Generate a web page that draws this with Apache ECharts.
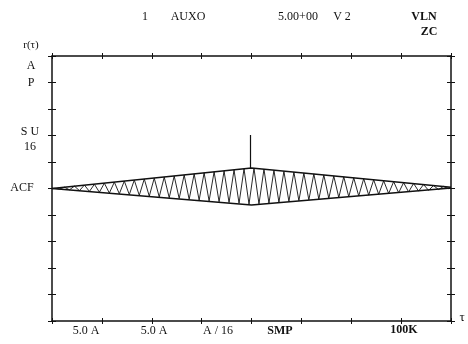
<!DOCTYPE html>
<html>
<head>
<meta charset="utf-8">
<script src="https://cdn.jsdelivr.net/npm/echarts@6/dist/echarts.min.js"></script>
<style>
html,body{margin:0;padding:0;background:#fff;}
#chart{width:468px;height:344px;}
</style>
</head>
<body>
<div id="chart"></div>
<script>
// ---- data ----
const zigzagX = [0.05,0.15,0.25,0.35,0.45,0.55,0.65,0.75,0.85,0.95,1.05,1.15,1.25,1.35,1.45,1.55,1.65,1.75,1.85,1.95,2.05,2.15,2.25,2.35,2.45,2.55,2.65,2.75,2.85,2.95,3.05,3.15,3.25,3.35,3.45,3.55,3.65,3.75,3.85,3.95,4.05,4.15,4.25,4.35,4.45,4.55,4.65,4.75,4.85,4.95,5.05,5.15,5.25,5.35,5.45,5.55,5.65,5.75,5.85,5.95,6.05,6.15,6.25,6.35,6.45,6.55,6.65,6.75,6.85,6.95,7.05,7.15,7.25,7.35,7.45,7.55,7.65,7.75,7.85,7.95];
const zigzagY = [0.01,-0.02,0.05,-0.05,0.09,-0.08,0.13,-0.11,0.16,-0.14,0.20,-0.17,0.24,-0.20,0.28,-0.23,0.32,-0.26,0.36,-0.29,0.39,-0.32,0.43,-0.35,0.47,-0.38,0.51,-0.41,0.55,-0.44,0.59,-0.47,0.63,-0.50,0.66,-0.53,0.70,-0.56,0.74,-0.59,0.76,-0.58,0.73,-0.55,0.69,-0.52,0.65,-0.49,0.62,-0.46,0.58,-0.43,0.55,-0.40,0.51,-0.37,0.47,-0.34,0.44,-0.31,0.40,-0.28,0.37,-0.25,0.33,-0.22,0.29,-0.19,0.26,-0.16,0.22,-0.13,0.19,-0.10,0.15,-0.07,0.11,-0.04,0.08,-0.01];
const envelopeX = [0, 4, 8];
const envelopeTop = [0, 0.77, 0.05];
const envelopeBottom = [0, -0.62, 0.02];
const spikeX = [3.98, 3.98];
const spikeY = [0.77, 2.02];
const topLabels = ['1', 'AUXO', '5.00+00', 'V 2', 'VLN', 'ZC'];
const leftLabels = ['A', 'P', 'S U', '16', 'ACF'];
const bottomLabels = ['5.0 A', '5.0 A', 'A / 16', 'SMP', '100K'];
const yTitle = 'r(τ)';
const xTitle = 'τ';

const pair = (xs, ys) => xs.map((x, i) => [x, ys[i]]);

const FONT = '"Liberation Serif", "DejaVu Serif", serif';

function axisX(pos, inside, showLine) {
  return { type: 'value', min: 0, max: 8, interval: 1, position: pos,
    axisLine: { show: showLine, onZero: false, lineStyle: { color: '#111', width: 1.5 } },
    axisTick: { show: true, inside: inside, length: 3, lineStyle: { color: '#111', width: 1 } },
    axisLabel: { show: false }, splitLine: { show: false } };
}
function axisY(pos, inside, showLine) {
  return { type: 'value', min: -5, max: 5, interval: 1, position: pos,
    axisLine: { show: showLine, onZero: false, lineStyle: { color: '#111', width: 1.5 } },
    axisTick: { show: true, inside: inside, length: 4, lineStyle: { color: '#111', width: 1 } },
    axisLabel: { show: false }, splitLine: { show: false } };
}

function txt(s, x, y, opts) {
  return { type: 'text', x: x, y: y, style: Object.assign({ text: s, fill: '#111',
    font: '12px ' + FONT, align: 'center', verticalAlign: 'middle' }, opts || {}) };
}
const B = { font: 'bold 12px ' + FONT };

const chart = echarts.init(document.getElementById('chart'), null, { renderer: 'canvas' });
chart.setOption({
  animation: false,
  backgroundColor: '#fff',
  grid: { left: 52, right: 17, top: 56, bottom: 23 },
  xAxis: [axisX('bottom', false, true), axisX('bottom', true, false), axisX('top', false, true), axisX('top', true, false)],
  yAxis: [axisY('left', false, true), axisY('left', true, false), axisY('right', false, true), axisY('right', true, false)],
  series: [
    { type: 'line', data: pair(zigzagX, zigzagY), showSymbol: false, lineStyle: { color: '#111', width: 0.9 } },
    { type: 'line', data: pair(envelopeX, envelopeTop), showSymbol: false, lineStyle: { color: '#111', width: 1.5 } },
    { type: 'line', data: pair(envelopeX, envelopeBottom), showSymbol: false, lineStyle: { color: '#111', width: 1.5 } },
    { type: 'line', data: pair(spikeX, spikeY), showSymbol: false, lineStyle: { color: '#111', width: 1.2 } }
  ],
  graphic: [
    txt(yTitle, 31, 45, { font: '11px ' + FONT }),
    txt(topLabels[0], 145, 17),
    txt(topLabels[1], 188, 17),
    txt(topLabels[2], 298, 17, { font: '12px ' + FONT }),
    txt(topLabels[3], 342, 17),
    txt(topLabels[4], 424, 17, B),
    txt(topLabels[5], 429, 32, B),
    txt(leftLabels[0], 31, 66),
    txt(leftLabels[1], 31, 83),
    txt(leftLabels[2], 30, 132),
    txt(leftLabels[3], 30, 147),
    txt(leftLabels[4], 22, 188),
    txt(bottomLabels[0], 86, 331),
    txt(bottomLabels[1], 154, 331),
    txt(bottomLabels[2], 218, 331),
    txt(bottomLabels[3], 280, 331, B),
    txt(bottomLabels[4], 404, 330, B),
    txt(xTitle, 462, 318, { font: '13px ' + FONT })
  ]
});
</script>
</body>
</html>
